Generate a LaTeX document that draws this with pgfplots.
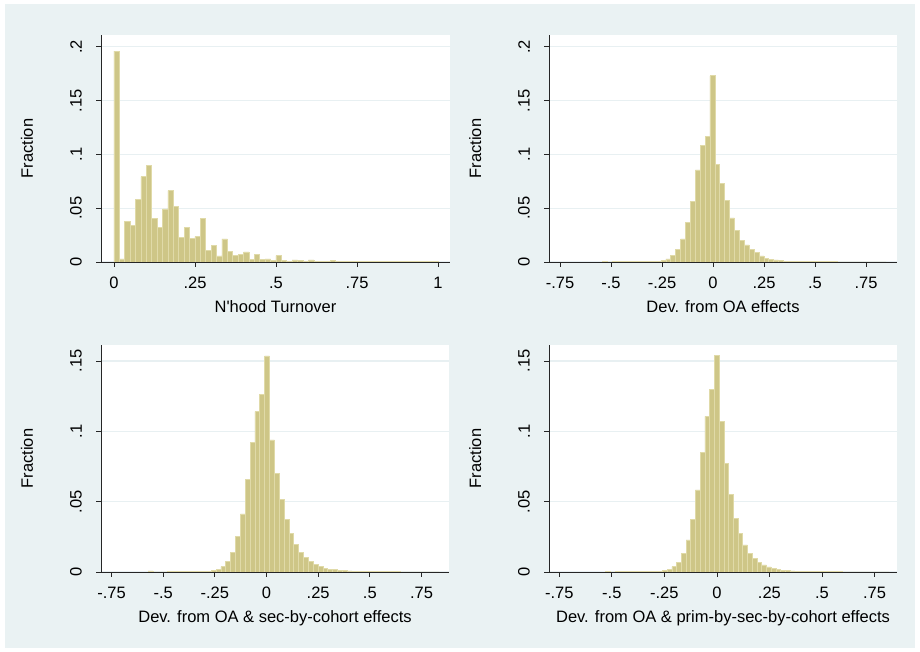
\documentclass[border=0pt]{standalone}
\usepackage{pgfplots}
\pgfplotsset{compat=1.18}
\usepackage{fontspec}
\setmainfont{Liberation Sans}
\definecolor{bgc}{RGB}{234,242,243}
\definecolor{gridc}{RGB}{232,240,242}
\definecolor{barf}{RGB}{206,198,135}
\definecolor{bard}{RGB}{224,218,168}
\newcommand{\lf}{\fontsize{16.5}{19}\selectfont}
\pgfplotsset{
  statastyle/.style={
    scale only axis, width=348pt, height=227pt,
    axis background/.style={fill=white},
    axis x line=bottom, axis y line=left,
    axis line style={-, black!85, line width=0.8pt},
    tick align=outside, major tick length=5pt,
    tick style={black!85, line width=0.8pt},
    ymajorgrids, grid style={gridc, line width=1.3pt},
    ticklabel style={font=\lf},
    xticklabel style={anchor=north, inner sep=0pt},
    xticklabel shift=10pt,
    yticklabel style={rotate=90, anchor=south, inner sep=0pt},
    yticklabel shift=14pt,
    every axis x label/.style={at={(axis description cs:0.5,0)}, anchor=base, yshift=-51pt, font=\lf},
    every axis y label/.style={at={(axis description cs:0,0.5)}, xshift=-68pt, rotate=90, anchor=base, font=\lf},
    ylabel={Fraction},
  },
  histbar/.style={ybar interval, fill=barf, draw=bard, line width=0.6pt},
}
\begin{document}
\begin{tikzpicture}
\fill[white] (0pt,0pt) rectangle (920pt,652pt);
\fill[bgc] (5pt,4pt) rectangle (915pt,648pt);

% Panel 1
\begin{axis}[statastyle, at={(101pt,390pt)}, anchor=south west, width=349pt,
  xmin=-0.04, xmax=1.037, ymin=0, ymax=0.2109,
  xtick={0,0.25,0.5,0.75,1}, xticklabels={0,.25,.5,.75,1},
  ytick={0,0.05,0.1,0.15,0.2}, yticklabels={0,.05,.1,.15,.2},
  xlabel={N\textquotesingle hood Turnover}]
\addplot[histbar] coordinates {
(0,0.196)(0.0167,0.0028)(0.0333,0.0378)(0.05,0.0341)(0.0667,0.0579)(0.0833,0.0793)
(0.1,0.0901)(0.1167,0.0403)(0.1333,0.0325)(0.15,0.0493)(0.1667,0.0663)(0.1833,0.052)
(0.2,0.0232)(0.2167,0.0322)(0.2333,0.0217)(0.25,0.0235)(0.2667,0.0403)(0.2833,0.0108)
(0.3,0.0152)(0.3167,0.0056)(0.3333,0.0214)(0.35,0.0102)(0.3667,0.0059)(0.3833,0.0074)
(0.4,0.0093)(0.4167,0.0022)(0.4333,0.0071)(0.45,0.0022)(0.4667,0.0028)(0.4833,0.0012)
(0.5,0.0060)(0.5167,0.0015)(0.5333,0.0006)(0.55,0.0019)(0.5667,0.0015)(0.5833,0.0009)
(0.6,0.0019)(0.6167,0.0009)(0.6333,0.0006)(0.65,0.0006)(0.6667,0.0015)(0.6833,0.0003)
(0.7,0.0003)(0.7167,0.0005)(0.7333,0.0003)(0.75,0.0003)(0.7667,0.0003)(0.7833,0.0003)
(0.8,0.0003)(0.8167,0.0003)(0.8333,0.0003)(0.85,0.0003)(0.8667,0.0003)(0.8833,0.0003)
(0.9,0.0003)(0.9167,0.0003)(0.9333,0.0003)(0.95,0.0003)(0.9667,0.0003)(0.9833,0.0003)
(1,0)};
\end{axis}

% Panel 2
\begin{axis}[statastyle, at={(549pt,390pt)}, anchor=south west,
  xmin=-0.804, xmax=0.902, ymin=0, ymax=0.2109,
  xtick={-0.75,-0.5,-0.25,0,0.25,0.5,0.75}, xticklabels={-.75,-.5,-.25,0,.25,.5,.75},
  ytick={0,0.05,0.1,0.15,0.2}, yticklabels={0,.05,.1,.15,.2},
  xlabel={Dev. from OA effects}]
\addplot[histbar] coordinates {
(-0.543,0.0008)(-0.519,0.0001)(-0.495,0.0002)(-0.471,0.0002)(-0.447,0.0002)(-0.423,0.0002)
(-0.399,0.0003)(-0.375,0.0003)(-0.351,0.0003)(-0.327,0.0004)(-0.303,0.0005)(-0.279,0.0008)
(-0.255,0.0015)(-0.231,0.0028)(-0.207,0.0062)(-0.183,0.0118)(-0.159,0.0214)(-0.135,0.0366)
(-0.111,0.0564)(-0.087,0.0855)(-0.063,0.108)(-0.039,0.117)(-0.015,0.173)(0.009,0.091)
(0.033,0.073)(0.057,0.057)(0.081,0.041)(0.105,0.029)(0.129,0.020)(0.153,0.0158)
(0.177,0.012)(0.201,0.0087)(0.225,0.0056)(0.249,0.0037)(0.273,0.0025)(0.297,0.0019)
(0.321,0.0012)(0.345,0.0009)(0.369,0.0007)(0.393,0.0005)(0.417,0.0004)(0.441,0.0003)
(0.465,0.0003)(0.489,0.0002)(0.513,0.0002)(0.537,0.0002)(0.561,0.0002)(0.585,0.0002)
(0.609,0.0001)(0.633,0.0001)(0.657,0.0001)(0.681,0.0001)(0.705,0.0001)(0.729,0.0001)
(0.753,0.0001)(0.777,0.0001)(0.801,0.0001)(0.825,0.0001)(0.849,0)};
\end{axis}

% Panel 3
\begin{axis}[statastyle, at={(101pt,80pt)}, anchor=south west,
  xmin=-0.801, xmax=0.883, ymin=0, ymax=0.1614,
  xtick={-0.75,-0.5,-0.25,0,0.25,0.5,0.75}, xticklabels={-.75,-.5,-.25,0,.25,.5,.75},
  ytick={0,0.05,0.1,0.15}, yticklabels={0,.05,.1,.15},
  xlabel={Dev. from OA \& sec-by-cohort effects}]
\addplot[histbar] coordinates {
(-0.5734,0.0008)(-0.5499,0)(-0.5264,0)(-0.5029,0.0001)(-0.4794,0.0002)(-0.4559,0.0002)
(-0.4324,0.0002)(-0.4089,0.0002)(-0.3854,0.0002)(-0.3619,0.0003)(-0.3384,0.0003)(-0.3149,0.0004)
(-0.2914,0.0005)(-0.2679,0.0009)(-0.2444,0.0019)(-0.2209,0.0038)(-0.1974,0.0076)(-0.1739,0.0142)
(-0.1504,0.0251)(-0.1269,0.0413)(-0.1034,0.066)(-0.0799,0.092)(-0.0564,0.114)(-0.0329,0.1264)
(-0.0094,0.1536)(0.0141,0.0939)(0.0376,0.0702)(0.0611,0.0517)(0.0846,0.0375)(0.1081,0.0275)
(0.1316,0.0194)(0.1551,0.0142)(0.1786,0.0104)(0.2021,0.0078)(0.2256,0.0055)(0.2491,0.0038)
(0.2726,0.0028)(0.2961,0.0021)(0.3196,0.0017)(0.3431,0.0013)(0.3666,0.0010)(0.3901,0.0008)
(0.4136,0.0006)(0.4371,0.0005)(0.4606,0.0004)(0.4841,0.0003)(0.5076,0.0003)(0.5311,0.0002)
(0.5546,0.0002)(0.5781,0.0002)(0.6016,0.0002)(0.6251,0.0002)(0.6486,0.0001)(0.6721,0.0001)
(0.6956,0.0001)(0.7191,0.0001)(0.7426,0.0001)(0.7661,0.0001)(0.7896,0.0001)(0.8131,0.0001)
(0.8366,0)};
\end{axis}

% Panel 4
\begin{axis}[statastyle, at={(549pt,80pt)}, anchor=south west,
  xmin=-0.799, xmax=0.857, ymin=0, ymax=0.1614,
  xtick={-0.75,-0.5,-0.25,0,0.25,0.5,0.75}, xticklabels={-.75,-.5,-.25,0,.25,.5,.75},
  ytick={0,0.05,0.1,0.15}, yticklabels={0,.05,.1,.15},
  xlabel={Dev. from OA \& prim-by-sec-by-cohort effects}]
\addplot[histbar] coordinates {
(-0.5295,0.0007)(-0.507,0.0001)(-0.4845,0.0007)(-0.462,0.0002)(-0.4395,0.0002)(-0.417,0.0002)
(-0.3945,0.0002)(-0.372,0.0002)(-0.3495,0.0003)(-0.327,0.0003)(-0.3045,0.0004)(-0.282,0.0006)
(-0.2595,0.0010)(-0.237,0.0019)(-0.2145,0.0038)(-0.192,0.0071)(-0.1695,0.0133)(-0.147,0.0228)
(-0.1245,0.0375)(-0.102,0.0584)(-0.0795,0.085)(-0.057,0.1107)(-0.0345,0.1297)(-0.012,0.154)
(0.0105,0.107)(0.033,0.0774)(0.0555,0.0553)(0.078,0.0382)(0.1005,0.0276)(0.123,0.0192)
(0.1455,0.0133)(0.168,0.0097)(0.1905,0.0069)(0.213,0.0050)(0.2355,0.0036)(0.258,0.0026)
(0.2805,0.0019)(0.303,0.0014)(0.3255,0.0010)(0.348,0.0008)(0.3705,0.0006)(0.393,0.0005)
(0.4155,0.0004)(0.438,0.0003)(0.4605,0.0002)(0.483,0.0002)(0.5055,0.0002)(0.528,0.0002)
(0.5505,0.0002)(0.573,0.0002)(0.5955,0.0001)(0.618,0.0001)(0.6405,0.0001)(0.663,0.0001)
(0.6855,0.0001)(0.708,0.0001)(0.7305,0.0001)(0.753,0.0001)(0.7755,0.0001)(0.798,0.0001)
(0.8205,0)};
\end{axis}
\end{tikzpicture}
\end{document}
